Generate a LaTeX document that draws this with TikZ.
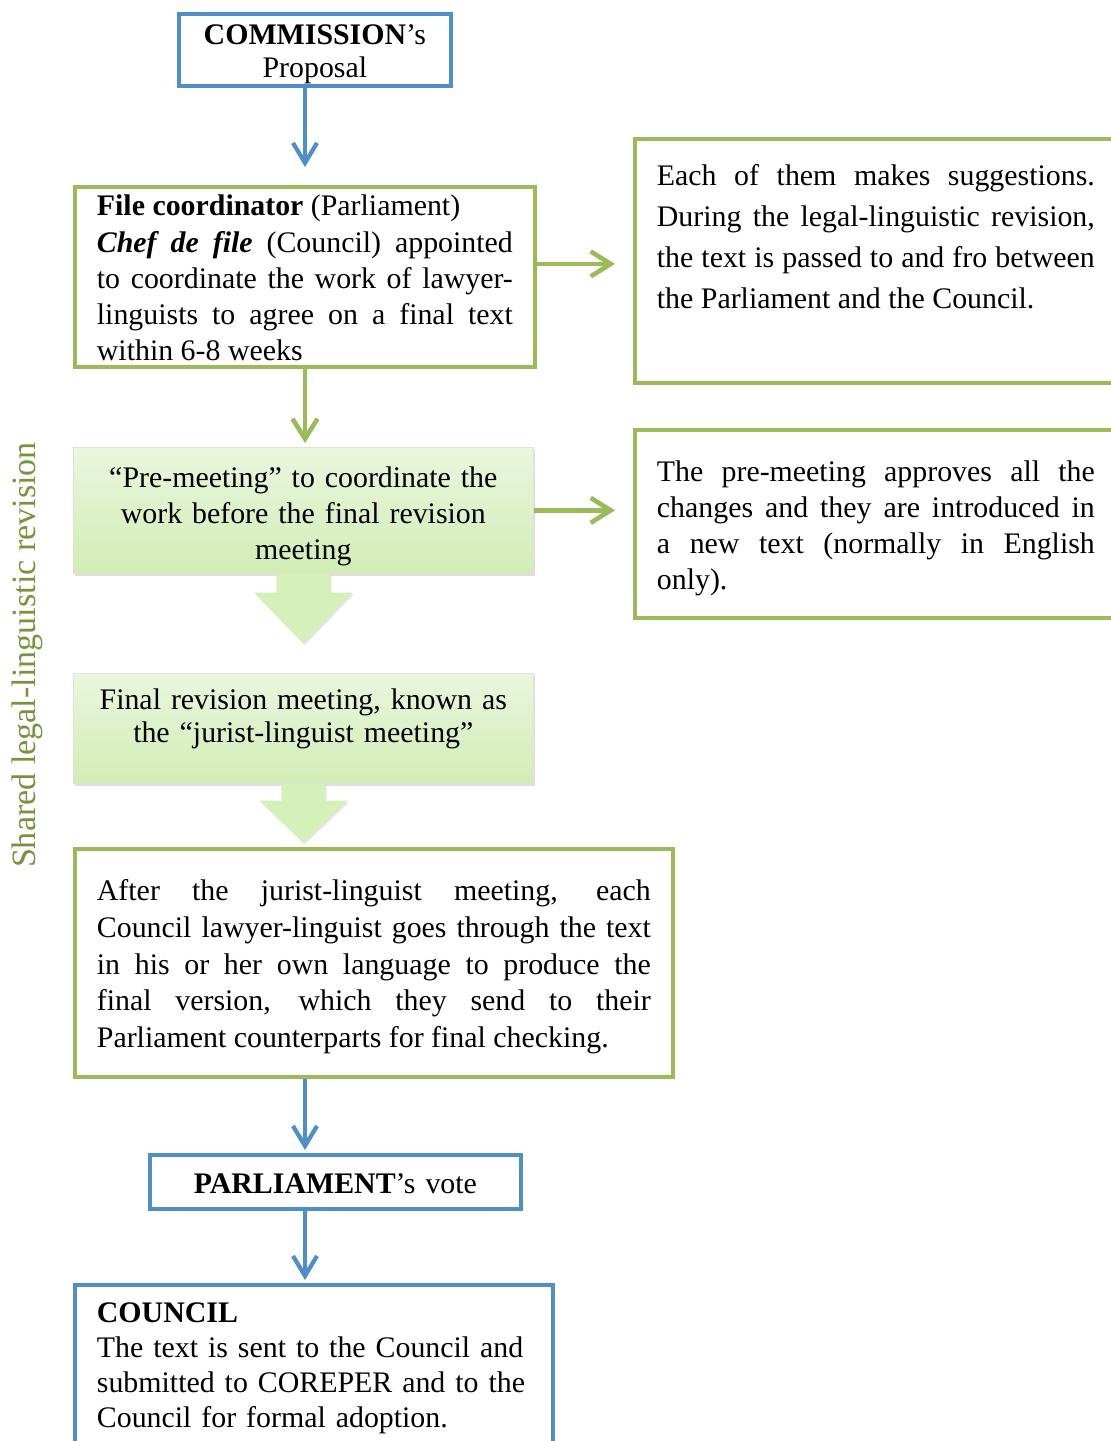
\documentclass[tikz,border=0pt]{standalone}
\usepackage{fontspec}
\setmainfont{Liberation Serif}
\usepackage{tikz}
\usetikzlibrary{arrows.meta,calc,shadows}

\definecolor{boxblue}{HTML}{4E8FC9}
\definecolor{boxgreen}{HTML}{9BBB59}
\definecolor{paleleaf}{HTML}{EAF6DE}
\definecolor{leaf}{HTML}{D2EDB6}
\definecolor{arrowleaf}{HTML}{D5F0B8}
\definecolor{labelolive}{HTML}{77933C}

\begin{document}
\begin{tikzpicture}[x=0.02cm,y=-0.02cm,
    every node/.style={font=\fontsize{17}{20.6}\selectfont,inner ysep=0pt,inner xsep=0.44cm,anchor=north west},
    bluebox/.style={draw=boxblue,line width=2.2pt,fill=white},
    greenbox/.style={draw=boxgreen,line width=2.2pt,fill=white},
    leafbox/.style={draw=leaf!80!black!40,line width=0.4pt,top color=paleleaf,bottom color=leaf,
        drop shadow={opacity=0.25,shadow xshift=1pt,shadow yshift=-1.5pt}},
    bluearrow/.style={draw=boxblue,line width=2.4pt,-{Straight Barb[length=0.4cm,width=0.48cm]}},
    greenarrow/.style={draw=boxgreen,line width=2.6pt,-{Straight Barb[length=0.4cm,width=0.5cm]}},
    blockarrow/.style={fill=arrowleaf,draw=none,
        drop shadow={opacity=0.2,shadow xshift=0.8pt,shadow yshift=-1pt}}]

    \useasboundingbox (0,0) rectangle (1110,1441);
    \coordinate (spine) at (305,0);

    \node[bluebox,align=center,inner xsep=0.2cm,text width=5.04cm,text height=0.62cm,text depth=0.82cm,
        font=\fontsize{17}{18.8}\selectfont] (comm) at (177,12)
        {\textbf{COMMISSION}’s\\Proposal};

    \node[greenbox,align=justify,text width=8.32cm,text height=0.58cm,text depth=3.02cm] (file) at (73,185)
        {\textbf{File coordinator} (Parliament)\\
        \textbf{\textit{Chef de file}} (Council) appointed\linebreak
        to coordinate the work of lawyer-\linebreak
        linguists to agree on a final text\linebreak
        within 6-8 weeks};

    \node[greenbox,align=justify,text width=8.76cm,text height=0.94cm,text depth=3.94cm,
        font=\fontsize{17}{23.3}\selectfont] (each) at (633,137)
        {Each of them makes suggestions.\linebreak
        During the legal-linguistic revision,\linebreak
        the text is passed to and fro between\linebreak
        the Parliament and the Council.};

    \node[leafbox,align=center,text width=8.32cm,text height=0.8cm,text depth=1.72cm] (pre) at (73,447)
        {“Pre-meeting” to coordinate the\\work before the final revision\\meeting};

    \node[greenbox,align=justify,text width=8.76cm,text height=1.04cm,text depth=2.72cm,
        font=\fontsize{17}{20.4}\selectfont] (preright) at (633,428)
        {The pre-meeting approves all the\linebreak
        changes and they are introduced in\linebreak
        a new text (normally in English\linebreak
        only).};

    \node[leafbox,align=center,text width=8.32cm,text height=0.72cm,text depth=1.48cm,
        font=\fontsize{17}{18.8}\selectfont] (final) at (73,673)
        {Final revision meeting, known as\\the “jurist-linguist meeting”};

    \node[greenbox,align=justify,text width=11.08cm,text height=1.04cm,text depth=3.52cm,
        font=\fontsize{17}{20.8}\selectfont] (after) at (73,847)
        {After the jurist-linguist meeting, each\linebreak
        Council lawyer-linguist goes through the text\linebreak
        in his or her own language to produce the\linebreak
        final version, which they send to their\linebreak
        Parliament counterparts for final checking.};

    \node[bluebox,align=center,inner xsep=0.2cm,text width=7.02cm,text height=0.78cm,text depth=0.3cm] (vote) at (148,1153)
        {\textbf{PARLIAMENT}’s vote};

    \node[bluebox,align=left,text width=8.68cm,text height=0.76cm,text depth=2.8cm,
        font=\fontsize{17}{19.9}\selectfont] (council) at (73,1283)
        {\textbf{COUNCIL}\\
        The text is sent to the Council and\\
        submitted to COREPER and to the\\
        Council for formal adoption.};

    \node[anchor=center,rotate=90,inner xsep=0pt,text=labelolive,font=\fontsize{19.4}{22}\selectfont] (shared) at (27,655)
        {Shared legal-linguistic revision};

    \draw[bluearrow,shorten >=0.36cm] (comm.south -| spine) -- (file.north -| spine);
    \coordinate (fileout) at ($(file.east)+(0,-13)$);
    \draw[greenarrow,shorten >=0.36cm] (fileout) -- (fileout -| each.west);
    \draw[greenarrow,shorten >=0.08cm] (file.south -| spine) -- (pre.north -| spine);
    \draw[greenarrow,shorten >=0.36cm] (pre.east) -- (pre.east -| preright.west);

    \path[blockarrow] ($(pre.south)+(-27,0)$) -- ++(0,19) -- ++(-22,0) -- ($(pre.south)+(0,70)$)
        -- ($(pre.south)+(49,19)$) -- ++(-22,0) -- ($(pre.south)+(27,0)$) -- cycle;
    \path[blockarrow] ($(final.south)+(-22,0)$) -- ++(0,17) -- ++(-22,0) -- ($(final.south)+(0,59)$)
        -- ($(final.south)+(44,17)$) -- ++(-22,0) -- ($(final.south)+(22,0)$) -- cycle;

    \draw[bluearrow,shorten >=0.06cm] (after.south -| spine) -- (vote.north -| spine);
    \draw[bluearrow,shorten >=0.06cm] (vote.south -| spine) -- (council.north -| spine);
\end{tikzpicture}
\end{document}
